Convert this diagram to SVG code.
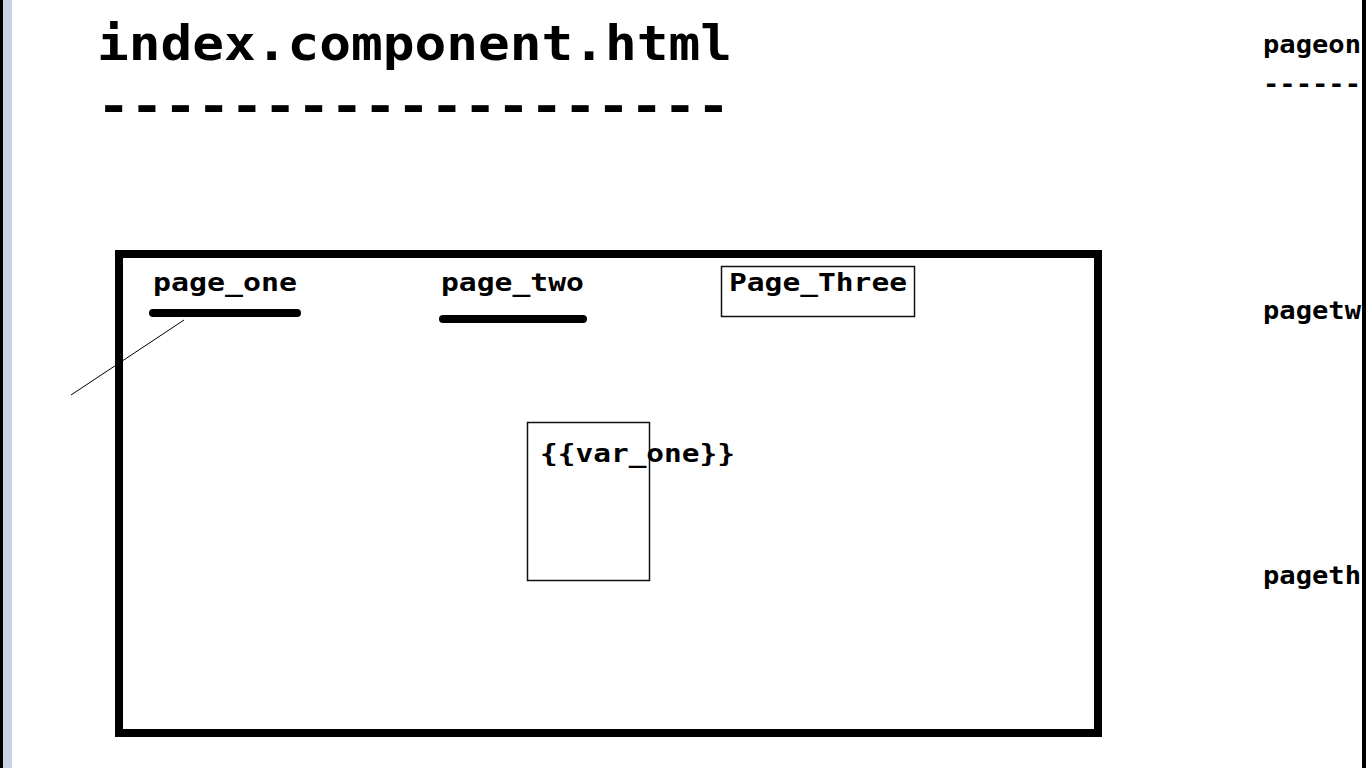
<svg xmlns="http://www.w3.org/2000/svg" width="1366" height="768" viewBox="0 0 1366 768">
<style>
.t{font-family:"DejaVu Sans Mono","Liberation Mono",monospace;font-weight:bold;fill:#000}
.big{font-size:48px}
.mid{font-size:25px}
.box{fill:#fff;stroke:#111;stroke-width:1.5}
.ul{stroke:#000;stroke-width:8;stroke-linecap:round}
</style>
<rect x="0" y="0" width="1366" height="768" fill="#fff"/>
<rect x="3" y="0" width="9" height="768" fill="#c9d3e3"/>
<rect x="0" y="0" width="3" height="768" fill="#000"/>
<g id="title">
<text class="t big" x="97" y="60" textLength="635" lengthAdjust="spacingAndGlyphs">index.component.html</text>
<text class="t big" x="97" y="122" textLength="633" lengthAdjust="spacingAndGlyphs">-------------------</text>
</g>
<g id="frame">
<rect x="119" y="254" width="979" height="479" fill="none" stroke="#000" stroke-width="8"/>
</g>
<g id="page_one">
<text class="t mid" x="153" y="291" textLength="144" lengthAdjust="spacingAndGlyphs">page_one</text>
<line class="ul" x1="153" y1="313" x2="297" y2="313"/>
</g>
<g id="page_two">
<text class="t mid" x="441" y="291" textLength="143" lengthAdjust="spacingAndGlyphs">page_two</text>
<line class="ul" x1="443" y1="319" x2="583" y2="319"/>
</g>
<g id="page_three">
<rect class="box" x="721.5" y="266.5" width="193" height="50"/>
<text class="t mid" x="729" y="291" textLength="178" lengthAdjust="spacingAndGlyphs">Page_Three</text>
</g>
<g id="var_one">
<rect class="box" x="527.5" y="422.5" width="122" height="158" fill="none"/>
<text class="t mid" x="540" y="462" textLength="195" lengthAdjust="spacingAndGlyphs">{{var_one}}</text>
</g>
<g id="connectors">
<line x1="71" y1="395" x2="184" y2="320" stroke="#000" stroke-width="1"/>
</g>
<g id="side">
<text class="t mid" x="1263" y="53" textLength="98" lengthAdjust="spacingAndGlyphs">pageon</text>
<text class="t mid" x="1263" y="92" textLength="98" lengthAdjust="spacingAndGlyphs">------</text>
<text class="t mid" x="1263" y="319" textLength="98" lengthAdjust="spacingAndGlyphs">pagetw</text>
<text class="t mid" x="1263" y="584" textLength="98" lengthAdjust="spacingAndGlyphs">pageth</text>
</g>
<rect x="1362" y="0" width="4" height="768" fill="#000"/>
</svg>
